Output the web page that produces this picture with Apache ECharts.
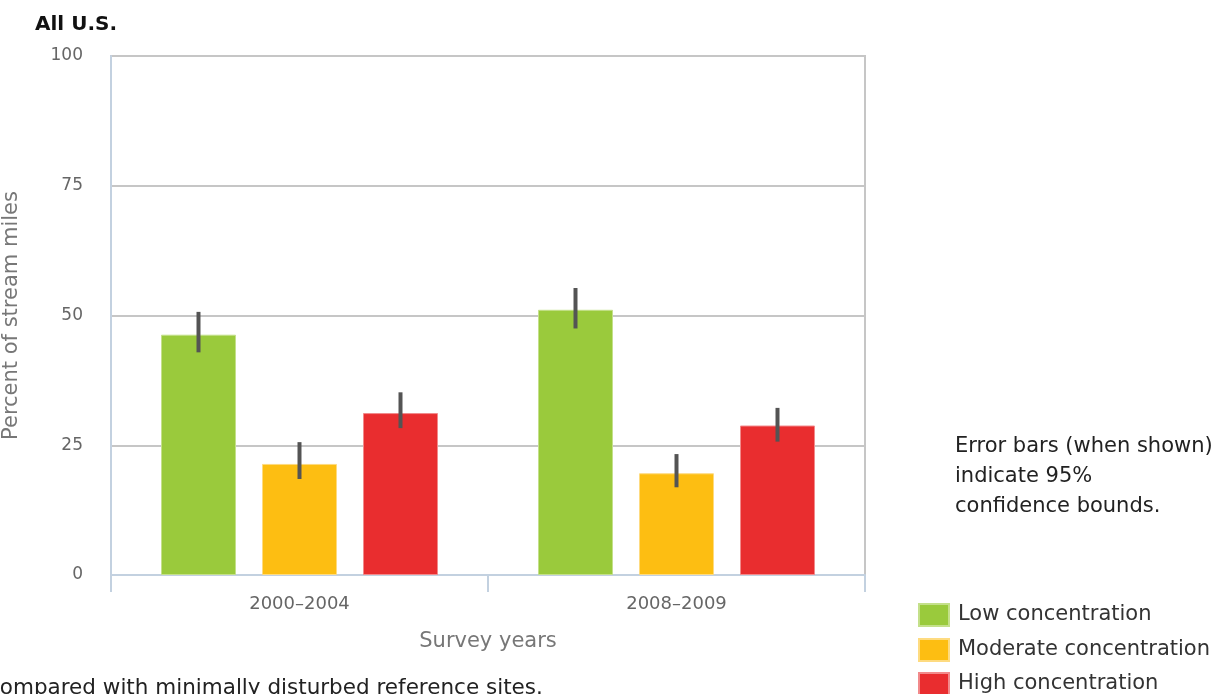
<!DOCTYPE html>
<html><head><meta charset="utf-8">
<script src="https://cdn.jsdelivr.net/npm/echarts@6/dist/echarts.min.js"></script>
<style>html,body{margin:0;padding:0;background:#fff}#c{width:1222px;height:694px}</style>
</head><body><div id="c"></div>
<script>
const categories = ['2000–2004', '2008–2009'];
const seriesNames = ['Low concentration', 'Moderate concentration', 'High concentration'];
const lowVals = [46.3, 51.1];
const lowLower = [42.9, 47.5];
const lowUpper = [50.7, 55.3];
const modVals = [21.4, 19.6];
const modLower = [18.5, 16.9];
const modUpper = [25.6, 23.3];
const highVals = [31.2, 28.8];
const highLower = [28.3, 25.7];
const highUpper = [35.2, 32.2];
const yTicks = [0, 25, 50, 75, 100];

const colors = ['#9aca3c', '#fdbe12', '#e92d2f'];
const edge = ['#c4e08a', '#fedb80', '#f28a8b'];
const BAR_W = 75, BAR_GAP_PX = 26;
const FONT = 'DejaVu Sans';

const vals = [lowVals, modVals, highVals];
const lowers = [lowLower, modLower, highLower];
const uppers = [lowUpper, modUpper, highUpper];

const series = [];
vals.forEach((v, i) => {
  series.push({
    name: seriesNames[i], type: 'bar', data: v, barWidth: BAR_W,
    barGap: (BAR_GAP_PX / BAR_W * 100) + '%',
    itemStyle: { color: colors[i], borderColor: edge[i], borderWidth: 1 },
    emphasis: { disabled: true }
  });
});
vals.forEach((v, i) => {
  const offset = (i - 1) * (BAR_W + BAR_GAP_PX);
  series.push({
    type: 'custom', z: 5, silent: true,
    data: categories.map((c, k) => [k, lowers[i][k], uppers[i][k]]),
    renderItem: function (params, api) {
      const a = api.coord([api.value(0), api.value(1)]);
      const b = api.coord([api.value(0), api.value(2)]);
      return { type: 'line', shape: { x1: a[0] + offset, y1: a[1], x2: b[0] + offset, y2: b[1] },
        style: { stroke: '#545454', lineWidth: 4 } };
    }
  });
});

const legendTops = [603, 638, 672];
const legends = seriesNames.map((n, i) => ({
  orient: 'vertical', left: 918, top: legendTops[i], padding: 0, itemWidth: 30, itemHeight: 22,
  icon: 'rect', data: [n], selectedMode: false,
  textStyle: { fontSize: 21, color: '#333', fontFamily: FONT, padding: [0, 0, 0, 4] }
}));

const chart = echarts.init(document.getElementById('c'));
chart.setOption({
  animation: false,
  textStyle: { fontFamily: FONT },
  grid: { left: 111, right: 357, top: 56, bottom: 119, show: true, borderColor: '#c6c6c6', borderWidth: 2,
          containLabel: false, outerBoundsMode: 'none' },
  legend: legends,
  xAxis: {
    type: 'category', data: categories,
    axisLine: { lineStyle: { color: '#c3d1e0', width: 2 } },
    axisTick: { show: true, length: 17, lineStyle: { color: '#c3d1e0', width: 2 } },
    axisLabel: { fontSize: 18, color: '#666', margin: 20, fontFamily: FONT },
    name: 'Survey years', nameLocation: 'middle', nameGap: 56,
    nameTextStyle: { fontSize: 21, color: '#777', fontFamily: FONT }
  },
  yAxis: {
    type: 'value', min: yTicks[0], max: yTicks[yTicks.length - 1], interval: 25,
    axisLine: { show: true, lineStyle: { color: '#c3d1e0', width: 2 } },
    axisTick: { show: false },
    axisLabel: { fontSize: 17, color: '#666', margin: 28, fontFamily: FONT },
    splitLine: { lineStyle: { color: '#c6c6c6', width: 2 } },
    name: 'Percent of stream miles', nameLocation: 'middle', nameGap: 89,
    nameTextStyle: { fontSize: 21, color: '#777', fontFamily: FONT }
  },
  graphic: [
    { type: 'text', left: 35, top: 15, style: { text: 'All U.S.', fontSize: 20, fontWeight: 'bold', fill: '#111', fontFamily: FONT } },
    { type: 'text', left: 955, top: 432, style: { text: 'Error bars (when shown)\nindicate 95%\nconfidence bounds.', fontSize: 21, lineHeight: 30, fill: '#222', fontFamily: FONT } },
    { type: 'text', left: -12, top: 677, style: { text: 'compared with minimally disturbed reference sites.', fontSize: 21.5, fill: '#222', fontFamily: FONT } }
  ],
  series: series
});
</script></body></html>
